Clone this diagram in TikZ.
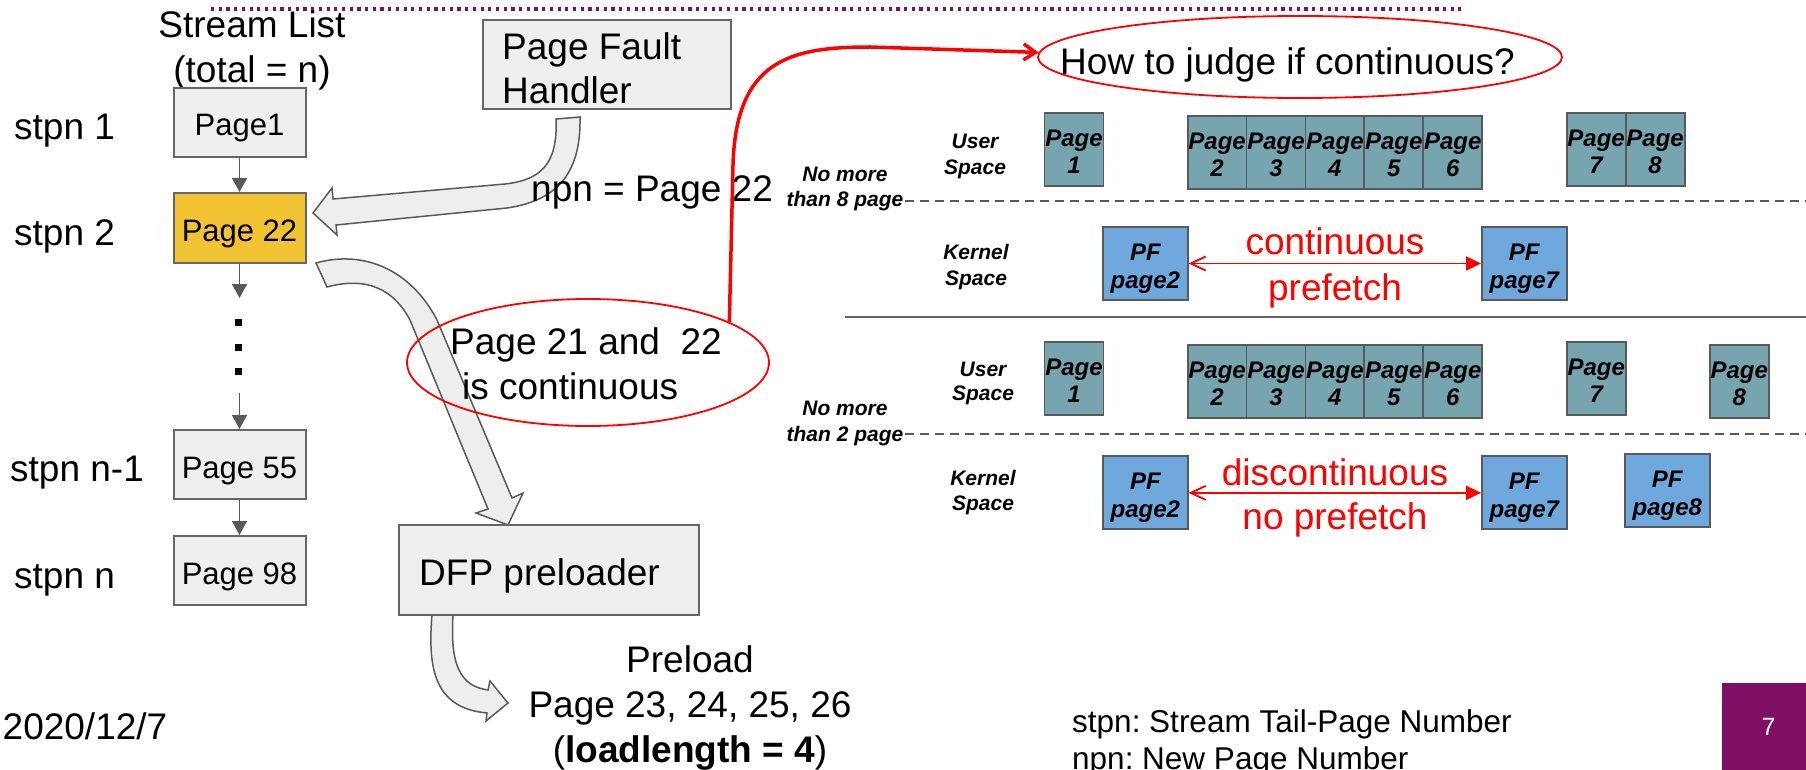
\documentclass[tikz,border=0pt]{standalone}
\usepackage{fontspec}
\setmainfont{Liberation Sans}
\usetikzlibrary{arrows.meta,shapes.geometric}
\frenchspacing

\definecolor{boxgray}{HTML}{EFEFEF}
\definecolor{edgegray}{HTML}{666666}
\definecolor{arrowfill}{HTML}{EEEEEE}
\definecolor{arrowedge}{HTML}{595959}
\definecolor{gold}{HTML}{F1C232}
\definecolor{tealpage}{HTML}{76A5AF}
\definecolor{pfblue}{HTML}{6FA8DC}
\definecolor{plum}{HTML}{7F0F63}

% a user-space page cell: name, x, y, number
\newcommand\usercell[4]{%
  \node[userpage] (#1) at (#2,#3) {};
  \node[cell] at ([yshift=12pt]#1.center) {Page};
  \node[cell] at ([yshift=-15.5pt]#1.center) {#4};}
% a kernel-space prefetch cell: name, x, y, label
\newcommand\pfcell[4]{%
  \node[pfpage] (#1) at (#2,#3) {};
  \node[cell] at ([yshift=12pt]#1.center) {PF};
  \node[cell] at ([yshift=-16.5pt]#1.center) {#4};}

\begin{document}
\begin{tikzpicture}[x=1pt,y=-1pt,
  big/.style={font=\fontsize{37}{44}\selectfont, inner sep=0pt, text height=26.5pt, text depth=0pt},
  boxtxt/.style={font=\fontsize{31}{37}\selectfont, text height=27pt, text depth=0pt},
  note/.style={font=\fontsize{31.5}{38}\selectfont, inner sep=0pt, text height=22.5pt, text depth=0pt},
  lab/.style={font=\fontsize{21}{25}\selectfont\bfseries\itshape, inner sep=0pt, text height=15pt, text depth=0pt},
  cell/.style={font=\fontsize{24}{28}\selectfont\bfseries\itshape, inner sep=0pt, text height=17.2pt, text depth=0pt},
  listbox/.style={draw=edgegray, line width=2pt, fill=boxgray, minimum width=132pt, minimum height=69pt, inner sep=0pt, boxtxt},
  bigbox/.style={draw=edgegray, line width=2pt, fill=boxgray, inner sep=0pt},
  link/.style={draw=arrowedge, line width=1.5pt, -{Triangle[length=14pt,width=15pt]}},
  blockarrow/.style={fill=arrowfill, draw=arrowedge, line width=1.5pt, line join=miter},
  userpage/.style={draw=arrowedge, line width=1.8pt, fill=tealpage, minimum width=59pt, minimum height=73pt, inner sep=0pt},
  pfpage/.style={draw=arrowedge, line width=1.8pt, fill=pfblue, minimum width=84.7pt, minimum height=73pt, inner sep=0pt},
  redlink/.style={draw=red, line width=1.8pt, {Straight Barb[length=15pt,width=14pt]}-{Triangle[length=15pt,width=14pt]}},
  redtxt/.style={big, text=red},
  ring/.style={draw=red, line width=1.8pt, ellipse, inner sep=0pt},
  sepline/.style={draw=arrowedge, line width=2pt, dash pattern=on 9pt off 6pt},
  dot/.style={fill=black, minimum size=7pt, inner sep=0pt},
]
\useasboundingbox (0,0) rectangle (1806,770);

% dotted title rule
\draw[plum, line width=4pt, dash pattern=on 3.2pt off 4.5pt] (211,9.3) -- (1461,9.3);

% ---------- stream list ----------
\node[big] (title1) at (252,24.5) {Stream List};
\node[big] (title2) at (252,69.5) {(total = n)};

\node[listbox] (p1)  at (239.5,122.5) {Page1};
\node[listbox, fill=gold, minimum height=70pt] (p22) at (239.5,228) {Page 22};
\node[listbox] (p55) at (239.5,464.5) {Page 55};
\node[listbox] (p98) at (239.5,570.5) {Page 98};

\node[big, anchor=west] (s1) at (14,126) {stpn 1};
\node[big, anchor=west] (s2) at (14,232) {stpn 2};
\node[big, anchor=west] (s3) at (10,468) {stpn n-1};
\node[big, anchor=west] (s4) at (14,575) {stpn n};

\coordinate (gapTop) at (239.5,298);
\coordinate (gapBot) at (239.5,393);
\draw[link] (p1) -- (p22);
\draw[link] (p22) -- (gapTop);
\draw[link] (gapBot) -- (p55);
\draw[link] (p55) -- (p98);
\node[dot] (d1) at (238,322) {};
\node[dot] (d2) at (238,347) {};
\node[dot] (d3) at (238,371) {};

% ---------- block arrows ----------
% page fault handler -> Page 22
\draw[blockarrow] (556,119) .. controls (558,165) and (540,180) .. (505,184)
  -- (333,199) -- (332,188) -- (313,213) -- (337,235) -- (336,225) -- (507,208)
  .. controls (562,200) and (581,168) .. (580,117) -- cycle;
% Page 22 -> DFP preloader
\draw[blockarrow] (316,263) .. controls (362,250) and (410,268) .. (437,320)
  -- (512,498) -- (523,493) -- (508,525) -- (476,513) -- (488,509) -- (410,320)
  .. controls (394,290) and (368,276) .. (327,287) -- cycle;
% DFP preloader -> preload list
\draw[blockarrow] (432,614) .. controls (428,665) and (432,708) .. (487,713)
  -- (486,721) -- (508,703) -- (490,681) -- (488,690)
  .. controls (460,686) and (450,665) .. (453,615) -- cycle;

% ---------- handler and preloader ----------
\node[bigbox, minimum width=248.5pt, minimum height=89pt] (pfh) at (606.75,64.5) {};
\node[big, anchor=west] (pfh1) at (502,46) {Page Fault};
\node[big, anchor=west] (pfh2) at (502,90) {Handler};

\node[bigbox, minimum width=299.5pt, minimum height=90pt] (dfp) at (548.75,570) {};
\node[big, anchor=west] (dfpt) at (419,572.5) {DFP preloader};

\node[big, anchor=west] (npn) at (531,188.3) {npn = Page 22};

\node[big] (pre1) at (690,659) {Preload};
\node[big] (pre2) at (690,704) {Page 23, 24, 25, 26};
\node[big] (pre3) at (690,749) {(\textbf{loadlength = 4})};

% ---------- continuity question ----------
\node[ring, minimum width=362pt, minimum height=127pt] (cont) at (588,362.5) {};
\node[big, anchor=west] (cont1) at (450,340.8) {Page 21 and\ \ 22};
\node[big, anchor=west] (cont2) at (462,386.7) {is continuous};

\node[ring, minimum width=524pt, minimum height=82pt] (judge) at (1300,57) {};
\node[big, anchor=west] (judget) at (1060,61) {How to judge if continuous?};

\draw[red, line width=3.5pt, -{Straight Barb[length=12pt,width=16pt]}]
  (cont.16) -- (733,165) .. controls (736,60) and (790,47) .. (870,47) -- (judge.179);

% ---------- separators ----------
\coordinate (sepA) at (905,200.7);
\coordinate (sepB) at (845,317);
\coordinate (sepC) at (905,434);
\draw[sepline] (sepA) -- (1806,200.7);
\draw[draw=edgegray, line width=2pt] (sepB) -- (1806,317);
\draw[sepline] (sepC) -- (1806,434);

\node[lab] (nm1a) at (845,174) {No more};
\node[lab] (nm1b) at (845,199.5) {than 8 page};
\node[lab] (nm2a) at (845,408) {No more};
\node[lab] (nm2b) at (845,433.5) {than 2 page};

\node[lab] (us1a) at (975,141.5) {User};
\node[lab] (us1b) at (975,167) {Space};
\node[lab] (ks1a) at (976,252) {Kernel};
\node[lab] (ks1b) at (976,278) {Space};
\node[lab] (us2a) at (983,369) {User};
\node[lab] (us2b) at (983,393) {Space};
\node[lab] (ks2a) at (983,478) {Kernel};
\node[lab] (ks2b) at (983,503) {Space};

% ---------- first case: continuous ----------
\usercell{tp1}{1074}{149.5}{1}
\foreach \cx [count=\k from 2] in {1217.1,1276,1334.9,1393.8,1452.7}
  {\usercell{tp\k}{\cx}{152.5}{\k}}
\usercell{tp7}{1596.1}{149.5}{7}
\usercell{tp8}{1655.1}{149.5}{8}

\pfcell{kp2}{1145.35}{263.5}{page2}
\pfcell{kp7}{1524.3}{263.5}{page7}
\draw[redlink] (kp2) -- (kp7);
\node[redtxt] (cA) at (1335,241.5) {continuous};
\node[redtxt] (cB) at (1335,287.5) {prefetch};

% ---------- second case: discontinuous ----------
\usercell{bp1}{1074}{378.5}{1}
\foreach \cx [count=\k from 2] in {1217.1,1276,1334.9,1393.8,1452.7}
  {\usercell{bp\k}{\cx}{381.5}{\k}}
\usercell{bp7}{1596.3}{378.5}{7}
\usercell{bp8}{1739.3}{381.5}{8}

\pfcell{kb2}{1145.35}{492.85}{page2}
\pfcell{kb7}{1524.3}{492.85}{page7}
\pfcell{kb8}{1667.25}{490.5}{page8}
\draw[redlink] (kb2) -- (kb7);
\node[redtxt] (dA) at (1335,472) {discontinuous};
\node[redtxt] (dB) at (1335,516) {no prefetch};

% ---------- footer ----------
\node[big, anchor=west] (date) at (2.5,726.7) {2020/12/7};
\node[note, anchor=west] (leg1) at (1072,720.8) {stpn: Stream Tail-Page Number};
\node[note, anchor=west] (leg2) at (1072,758) {npn: New Page Number};
\fill[plum] (1722,683) rectangle (1812,776);
\node[font=\fontsize{25}{30}\selectfont, text=white, inner sep=0pt, text height=18pt, text depth=0pt] (pgno) at (1768.6,726.7) {7};
\end{tikzpicture}
\end{document}
